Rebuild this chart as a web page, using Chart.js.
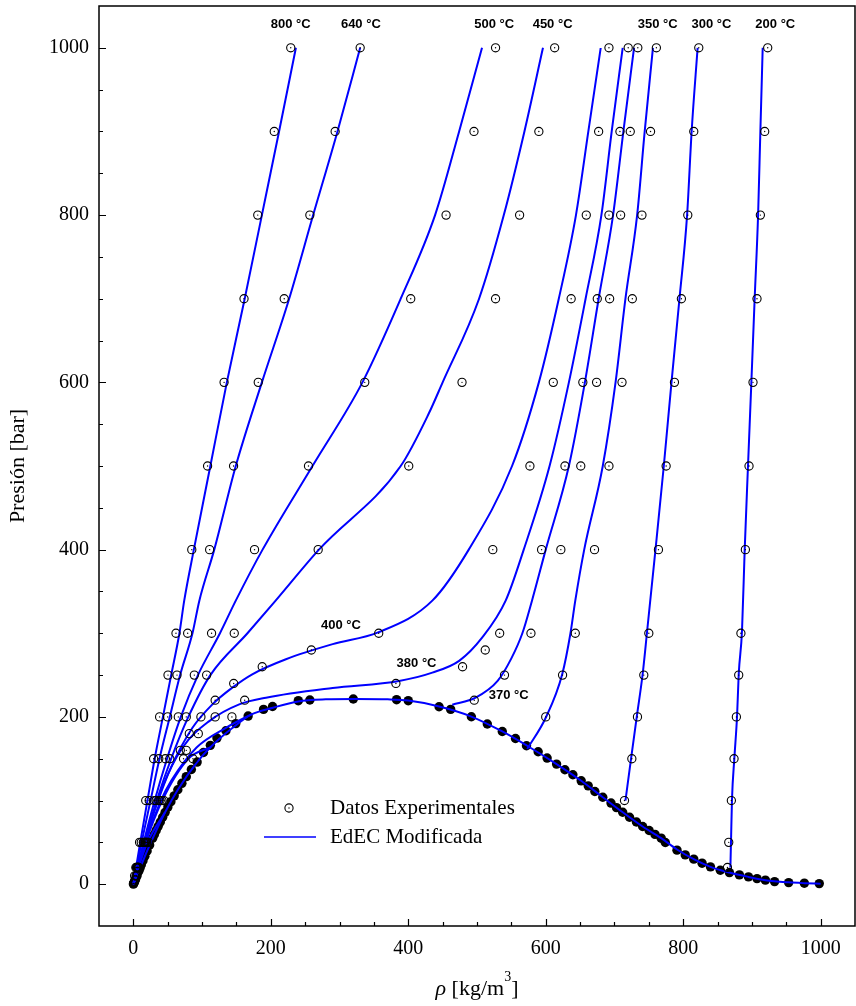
<!DOCTYPE html>
<html>
<head>
<meta charset="utf-8">
<script src="https://cdn.jsdelivr.net/npm/chart.js@4.4.1/dist/chart.umd.min.js"></script>
<style>
    body { margin: 0; background: #fff; }
    #wrap { width: 856px; height: 1006px; position: relative; }
</style>
</head>
<body>
<div id="wrap"><canvas id="isothermChart"></canvas></div>
<script>
// ==================== Data: [rho kg/m3, P bar] ====================
// Experimental isotherms (open circles)
const exp800 = [[229,1000],[205,900],[181,800],[161,700],[132,600],[108,500],[85,400],[62,300],[50.4,250],[38.2,200],[29.5,150],[18,100],[9,50],[3.6,20],[1.8,10]];
const exp640 = [[330,1000],[293.6,900],[256.8,800],[219.5,700],[181.7,600],[145.8,500],[111,400],[79,300],[63.5,250],[49.9,200],[37,150],[23,100],[11.5,50],[4.6,20]];
const exp500 = [[527,1000],[495.6,900],[455,800],[403.6,700],[336.7,600],[254.8,500],[176.3,400],[113.8,300],[88.7,250],[65.4,200],[46.5,150],[30.5,100],[14.5,50],[5.7,20]];
const exp450 = [[613,1000],[590,900],[562,800],[527,700],[478.2,600],[400.7,500],[268.9,400],[146.8,300],[106.6,250],[77,200],[53,150],[33,100],[15.5,50],[6,20]];
const exp400 = [[692,1000],[677,900],[659,800],[637,700],[611,600],[577,500],[523,400],[357,300],[259,280],[187.5,260],[146,240],[119,220],[98.3,200],[81.4,180],[68.3,160],[37,100],[17,50],[6.5,20]];
const exp380 = [[720,1000],[708,900],[692,800],[675,700],[654,600],[628,500],[594,400],[533,300],[512,280],[479,260],[382,240],[162,220],[119,200],[94.5,180],[77,160],[39,100],[17.5,50]];
const exp370 = [[734,1000],[723,900],[709,800],[693,700],[674,600],[651,500],[622,400],[578.5,300],[540,250],[496,220],[143.4,200],[73,150],[41.6,100],[19,50]];
const exp350 = [[761,1000],[752.5,900],[740,800],[726,700],[711,600],[692,500],[671,400],[643,300],[624.5,250],[600,200],[86.7,150],[44.5,100],[19.8,50],[7.5,20]];
const exp300 = [[822.7,1000],[815.4,900],[806.7,800],[797.4,700],[787.3,600],[775.2,500],[764,400],[750,300],[742.7,250],[733.5,200],[725.3,150],[714.6,100],[22,50],[8.1,20],[3.9,10]];
const exp200 = [[923,1000],[918.6,900],[912.3,800],[907.4,700],[901.6,600],[895.8,500],[890.5,400],[884,300],[880.8,250],[877.4,200],[874,150],[870.1,100],[866.3,50],[864.4,20],[5,10],[2.4,5],[0.5,1]];

// Model isotherms (EdEC Modificada)
const mod800 = [[0,0],[10,50],[20.5,100],[31,150],[43,200],[55,250],[67,300],[74,339],[88,400],[112,500],[136,600],[162,700],[187,800],[212,900],[236.5,1000]];
const mod640 = [[0,0],[12,50],[25,100],[38,150],[53,200],[68,250],[86,300],[96,339],[117.7,400],[149,500],[187,600],[226.7,700],[261.6,800],[297,900],[330,1000]];
const mod500 = [[0,0],[15,50],[31,100],[49,150],[69,200],[94,250],[126,300],[149,339],[188,400],[260.6,500],[333.3,600],[389,700],[439,800],[474,900],[507.3,1000]];
const mod450 = [[0,0],[16,50],[34,100],[55,150],[80,200],[112,250],[166,300],[207,339],[270,400],[389,500],[430,563],[450,600],[503,700],[539,800],[569,900],[596,1000]];
const mod400 = [[0,0],[16,50],[36,100],[55,140],[86,187],[115,215],[144,235],[173,251],[222,269],[290,287],[356,301],[435,339],[488,400],[551,500],[590,600],[619,700],[644,800],[662,900],[680,1000]];
const mod380 = [[0,0],[17,52],[42,115.6],[71.7,163.5],[110.5,195],[154,215],[193,223],[290,234.6],[386.6,243],[435,253],[474,267],[507.7,295],[541.7,339],[568,400],[605.6,500],[633.7,600],[658,700],[681,800],[696,900],[712,1000]];
const mod370Vap = [[0,0],[17,50],[40,100],[55,123.6],[92,163.5],[134.7,187],[172.5,203.4]];
const mod370Liq = [[464,214.6],[498,223],[530,243],[550,270],[566,300],[580,339],[600,400],[633.7,500],[657,600],[677,700],[698,800],[713,900],[728.5,1000]];
const mod350Vap = [[0,0],[18,50],[42,100],[80,150],[113,164]];
const mod350Liq = [[573,161.5],[600,199],[624,251],[636,300],[643,339],[656,400],[683,500],[701.6,600],[716,700],[733,800],[744,900],[756,1000]];
const mod300Vap = [[0,0],[7.5,20],[20.5,50],[46,86]];
const mod300Liq = [[716,100],[724.3,151],[732.6,201],[741,251],[747.6,303],[759.7,400],[771.8,500],[783,600],[794.6,700],[805.7,800],[812.3,900],[821,1000]];
const mod200Vap = [[0,0],[3.8,8],[7.9,15.5]];
const mod200Liq = [[868.7,20],[869.6,51.5],[871,101],[874.5,151],[878.4,201],[880.8,251],[885.6,303],[889.5,400],[894.3,500],[899.2,600],[904,700],[909,800],[912.3,900],[915.7,1000]];

// Saturation curve: model line and measured points (filled)
const satModel = [[0,0],[7.9,15.5],[20,39.7],[46.2,86],[64.7,113],[92.8,146],[113.6,165],[144,186.7],[172,203],[203,211],[240,218.5],[280,221],[322,221.5],[370,221],[400,219.5],[445,212.5],[490,201],[536.8,182.6],[573,165.5],[615.8,143.6],[651.6,123.6],[683,104],[712,86],[741,69],[768,55],[791,41.5],[815.4,29.9],[839.7,20.7],[867.3,13.9],[895,8.7],[919.6,4.8],[953.5,2.2],[976.3,1.2],[1000,0.5]];
const satVap = [[0.05,0.1],[0.6,1],[1.1,2],[2,3.6],[3.3,6.2],[5.2,10],[7.9,15.5],[9.6,19.1],[11.6,23.2],[14,28],[16.7,33.5],[20,39.8],[23.7,46.9],[28.1,55],[30.6,59.5],[33.2,64.2],[36.1,69.2],[39.2,74.4],[42.6,80],[46.2,85.9],[50.2,92.2],[54.6,98.7],[59.4,105.6],[64.7,112.9],[70.6,120.6],[77,128.6],[84.4,137.1],[92.8,146],[102,157.5],[112,166],[121.6,174.7],[134.7,183.5],[149,192],[167,201],[189.4,209],[202.5,212.5],[240,219.4],[256.8,220.2],[320,221.4]];
const satLiq = [[383,220.6],[400,219.4],[444.8,212.2],[461.7,209],[491.8,200.2],[515,191.5],[536.8,182.6],[556,174.2],[572,165.5],[589,158.3],[602,150.8],[615.8,143.6],[627.9,136.8],[639.5,130.8],[651.6,123.6],[661.8,117.6],[671.5,110.8],[683,104],[695,97],[703,91.5],[712,86],[722,80],[732,74.4],[741,69],[750.5,64.2],[759,59.5],[768,55],[774,49.8],[791,40.7],[803,35],[815.4,29.9],[827.5,25.1],[839.7,20.7],[854,16.7],[867.3,13.9],[881.8,11.1],[895,8.7],[907.4,6.7],[919.6,4.8],[933,3.1],[953.5,1.9],[976.3,1.2],[998,0.7]];

// Isotherm labels (anchor in data units)
const tempLabels = ['800 °C', '640 °C', '500 °C', '450 °C', '400 °C', '380 °C', '370 °C', '350 °C', '300 °C', '200 °C'];
const tempLabelRho = [229, 331, 525, 610, 302, 412, 546, 763, 841, 934];
const tempLabelP = [1028, 1028, 1028, 1028, 309, 264.5, 226.2, 1028, 1028, 1028];

const majorTicks = [0, 200, 400, 600, 800, 1000];
const tickLabels = ['0', '200', '400', '600', '800', '1000'];
const legendLabels = ['Datos Experimentales', 'EdEC Modificada'];

// ==================== Helpers ====================
const SERIF = '"Liberation Serif", "Times New Roman", serif';
const BLUE = '#0000ff';
const toXY = arr => arr.map(([r, p]) => ({ x: r, y: p }));

function modelLine(arr) {
    return {
        data: toXY(arr),
        showLine: true,
        borderColor: BLUE,
        borderWidth: 2,
        pointRadius: 0,
        cubicInterpolationMode: 'monotone',
        order: 2
    };
}

const allExp = [].concat(exp800, exp640, exp500, exp450, exp400, exp380, exp370, exp350, exp300, exp200);
const modelBranches = [mod800, mod640, mod500, mod450, mod400, mod380, mod370Vap, mod370Liq,
    mod350Vap, mod350Liq, mod300Vap, mod300Liq, mod200Vap, mod200Liq, satModel];

const datasets = [
    {
        // centre dot of the experimental markers
        data: toXY(allExp),
        showLine: false,
        pointStyle: 'circle',
        pointRadius: 0.7,
        backgroundColor: '#000',
        borderWidth: 0,
        order: 0
    },
    {
        label: legendLabels[0],
        data: toXY(allExp),
        showLine: false,
        pointStyle: 'circle',
        pointRadius: 4.1,
        backgroundColor: 'rgba(0,0,0,0)',
        borderColor: '#000',
        borderWidth: 1.1,
        order: 1
    },
    ...modelBranches.map(modelLine),
    {
        data: toXY(satVap.concat(satLiq)),
        showLine: false,
        pointStyle: 'circle',
        pointRadius: 4.7,
        backgroundColor: '#000',
        borderWidth: 0,
        order: 3
    }
];

// ==================== Decorations plugin ====================
const decorations = {
    id: 'decorations',
    afterDatasetsDraw(chart) {
        const { ctx, scales: { x, y } } = chart;
        ctx.save();
        ctx.font = 'bold 13px "Liberation Sans", Arial, sans-serif';
        ctx.fillStyle = '#000';
        ctx.textAlign = 'center';
        ctx.textBaseline = 'middle';
        tempLabels.forEach((t, i) => {
            ctx.fillText(t, x.getPixelForValue(tempLabelRho[i]), y.getPixelForValue(tempLabelP[i]));
        });
        ctx.restore();
    },
    afterDraw(chart) {
        const { ctx, chartArea: a, scales: { x, y } } = chart;
        ctx.save();

        // frame
        ctx.strokeStyle = '#000';
        ctx.lineWidth = 1.5;
        ctx.strokeRect(a.left, a.top, a.right - a.left, a.bottom - a.top);

        // inward ticks, minor every 50
        ctx.lineWidth = 1.2;
        ctx.beginPath();
        for (let v = -50; v <= 1050; v += 50) {
            const len = majorTicks.includes(v) ? 7 : 4;
            const px = Math.round(x.getPixelForValue(v)) + 0.5;
            if (px > a.left + 1 && px < a.right - 1) {
                ctx.moveTo(px, a.bottom);
                ctx.lineTo(px, a.bottom - len);
            }
            const py = Math.round(y.getPixelForValue(v)) + 0.5;
            if (py > a.top + 1 && py < a.bottom - 1) {
                ctx.moveTo(a.left, py);
                ctx.lineTo(a.left + len, py);
            }
        }
        ctx.stroke();

        // tick labels
        ctx.fillStyle = '#000';
        ctx.font = '20px ' + SERIF;
        ctx.textBaseline = 'middle';
        ctx.textAlign = 'center';
        majorTicks.forEach((v, i) => ctx.fillText(tickLabels[i], x.getPixelForValue(v), a.bottom + 23));
        ctx.textAlign = 'right';
        majorTicks.forEach((v, i) => ctx.fillText(tickLabels[i], a.left - 10, y.getPixelForValue(v)));

        // legend
        const lx = a.left + 190;
        const ly1 = a.top + 802;
        const ly2 = a.top + 831;
        ctx.strokeStyle = '#000';
        ctx.lineWidth = 1.1;
        ctx.beginPath(); ctx.arc(lx, ly1, 4.1, 0, Math.PI * 2); ctx.stroke();
        ctx.beginPath(); ctx.arc(lx, ly1, 0.7, 0, Math.PI * 2); ctx.fill();
        ctx.strokeStyle = BLUE;
        ctx.lineWidth = 1.3;
        ctx.beginPath();
        ctx.moveTo(lx - 25, ly2);
        ctx.lineTo(lx + 27, ly2);
        ctx.stroke();
        ctx.font = '21px ' + SERIF;
        ctx.textAlign = 'left';
        ctx.fillText(legendLabels[0], lx + 41, ly1);
        ctx.fillText(legendLabels[1], lx + 41, ly2);

        // x title: rho [kg/m^3]
        const cx = (a.left + a.right) / 2;
        const base = 995;
        ctx.textBaseline = 'alphabetic';
        ctx.font = 'italic 22px ' + SERIF;
        const wRho = ctx.measureText('ρ').width;
        ctx.font = '22px ' + SERIF;
        const wMid = ctx.measureText(' [kg/m').width;
        const wEnd = ctx.measureText(']').width;
        ctx.font = '14px ' + SERIF;
        const wSup = ctx.measureText('3').width;
        let tx = cx - (wRho + wMid + wSup + wEnd) / 2;
        ctx.font = 'italic 22px ' + SERIF;
        ctx.fillText('ρ', tx, base); tx += wRho;
        ctx.font = '22px ' + SERIF;
        ctx.fillText(' [kg/m', tx, base); tx += wMid;
        ctx.font = '14px ' + SERIF;
        ctx.fillText('3', tx, base - 14); tx += wSup;
        ctx.font = '22px ' + SERIF;
        ctx.fillText(']', tx, base);

        // y title
        ctx.translate(18, (a.top + a.bottom) / 2);
        ctx.rotate(-Math.PI / 2);
        ctx.textAlign = 'center';
        ctx.textBaseline = 'middle';
        ctx.fillText('Presión [bar]', 0, 0);

        ctx.restore();
    }
};

// ==================== Chart ====================
new Chart(document.getElementById('isothermChart'), {
    type: 'scatter',
    data: { datasets },
    options: {
        responsive: true,
        maintainAspectRatio: false,
        animation: false,
        layout: { autoPadding: false, padding: { top: 6, right: 1, left: 0, bottom: 0 } },
        plugins: { legend: { display: false }, tooltip: { enabled: false } },
        scales: {
            x: {
                type: 'linear',
                min: -50,
                max: 1050,
                grid: { display: false, drawTicks: false },
                border: { display: false },
                ticks: { display: false },
                afterFit: s => { s.height = 80; }
            },
            y: {
                type: 'linear',
                min: -50,
                max: 1050,
                grid: { display: false, drawTicks: false },
                border: { display: false },
                ticks: { display: false },
                afterFit: s => { s.width = 99; }
            }
        }
    },
    plugins: [decorations]
});
</script>
</body>
</html>
